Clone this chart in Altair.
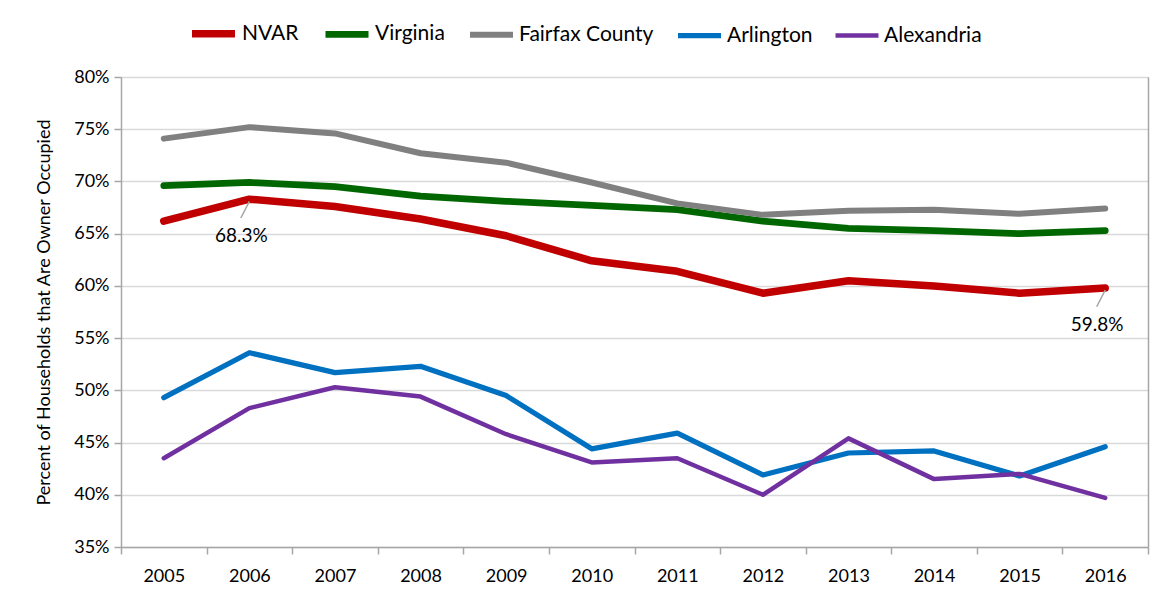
import altair as alt
import pandas as pd

years = list(range(2005, 2017))
series_names = ["NVAR", "Virginia", "Fairfax County", "Arlington", "Alexandria"]
nvar = [66.2, 68.3, 67.6, 66.4, 64.8, 62.4, 61.4, 59.3, 60.5, 60.0, 59.3, 59.8]
virginia = [69.6, 69.9, 69.5, 68.6, 68.1, 67.7, 67.3, 66.2, 65.5, 65.3, 65.0, 65.3]
fairfax = [74.1, 75.2, 74.6, 72.7, 71.8, 69.9, 67.9, 66.8, 67.2, 67.3, 66.9, 67.4]
arlington = [49.3, 53.6, 51.7, 52.3, 49.5, 44.4, 45.9, 41.9, 44.0, 44.2, 41.8, 44.6]
alexandria = [43.5, 48.3, 50.3, 49.4, 45.8, 43.1, 43.5, 40.0, 45.4, 41.5, 42.0, 39.7]
series_colors = ["#C00000", "#006600", "#808080", "#0070C0", "#7030A0"]
series_widths = [7.5, 4.5, 4.5, 4.5, 4.5]

anno_years = [2006, 2016]
anno_values = [68.3, 59.8]
anno_text = ["68.3%", "59.8%"]

y_ticks = [35, 40, 45, 50, 55, 60, 65, 70, 75, 80]
x_tick_edges = [y - 0.5 for y in years] + [years[-1] + 0.5]

rows = []
for name, vals in zip(series_names, [nvar, virginia, fairfax, arlington, alexandria]):
    for yr, v in zip(years, vals):
        rows.append({"series": name, "year": yr, "value": v})
df = pd.DataFrame(rows)
anno = pd.DataFrame({"year": anno_years, "value": anno_values, "text": anno_text})

FONT = "Lato"
x_scale = alt.Scale(domain=[2004.5, 2016.5], nice=False, zero=False)
y_scale = alt.Scale(domain=[35, 80], nice=False, zero=False)

x_axis = alt.Axis(
    values=x_tick_edges, labelExpr="datum.value > 2016 ? '' : format(datum.value + 0.5, 'd')",
    labelOffset=42.8, labelFlush=False, labelOverlap=False, labelAlign="center",
    title=None, grid=False, domainColor="#a6a6a6", domainWidth=1.5,
    tickColor="#a6a6a6", tickWidth=1.5, tickSize=7, labelFontSize=18, labelColor="#000000",
    labelFont=FONT, labelPadding=13,
)
y_axis = alt.Axis(
    values=y_ticks, labelExpr="datum.value + '%'", title="Percent of Households that Are Owner Occupied",
    titleFontSize=18, titleFont=FONT, titleFontWeight="normal", titleColor="#000000", titlePadding=20,
    grid=True, gridColor="#d9d9d9", gridWidth=1.5, domainColor="#a6a6a6", domainWidth=1.5,
    tickColor="#a6a6a6", tickWidth=1.5, tickSize=7, labelFontSize=18, labelFont=FONT,
    labelColor="#000000", labelPadding=5, labelFlush=False,
)

legend = alt.Legend(
    title=None, orient="none", legendX=67, legendY=-69, direction="horizontal",
    symbolType="stroke", symbolSize=1849, labelFontSize=21, labelFont=FONT, labelColor="#000000",
    labelOffset=3, columnPadding=13,
)

lines = alt.Chart(df).mark_line(strokeCap="round", strokeJoin="round").encode(
    x=alt.X("year:Q", scale=x_scale, axis=x_axis),
    y=alt.Y("value:Q", scale=y_scale, axis=y_axis),
    color=alt.Color("series:N", scale=alt.Scale(domain=series_names, range=series_colors), legend=legend),
    strokeWidth=alt.StrokeWidth("series:N", scale=alt.Scale(domain=series_names, range=series_widths), legend=legend),
    order=alt.Order("year:Q"),
    detail="series:N",
)

right_line = alt.Chart(anno).mark_point(opacity=0).encode(
    x=alt.X("year:Q", scale=x_scale, axis=None),
    y=alt.Y("value:Q", scale=y_scale, axis=alt.Axis(orient="right", labels=False, ticks=False, grid=False,
                                                    title=None, domainColor="#a6a6a6", domainWidth=1.5)),
)

leaders = alt.Chart(anno).transform_calculate(
    x2="datum.year - 0.1", y1="datum.value - 0.2", y2="datum.value - 1.8"
).mark_rule(color="#a6a6a6", strokeWidth=1.5).encode(
    x=alt.X("year:Q", scale=x_scale, axis=None),
    x2="x2:Q",
    y=alt.Y("y1:Q", scale=y_scale, axis=None),
    y2="y2:Q",
)

labels = alt.Chart(anno).mark_text(fontSize=19, font=FONT, color="#000000", dx=-8, dy=37).encode(
    x=alt.X("year:Q", scale=x_scale, axis=None),
    y=alt.Y("value:Q", scale=y_scale, axis=None),
    text="text:N",
)

chart = alt.layer(lines, right_line, leaders, labels).resolve_axis(
    x="independent", y="independent"
).properties(
    width=1027, height=470,
    autosize=alt.AutoSizeParams(type="none"),
    padding={"left": 113, "top": 69, "right": 15, "bottom": 45},
).configure_view(stroke=None).configure(background="#ffffff")

chart.save("out.html", embed_options={"renderer": "svg", "actions": False})
